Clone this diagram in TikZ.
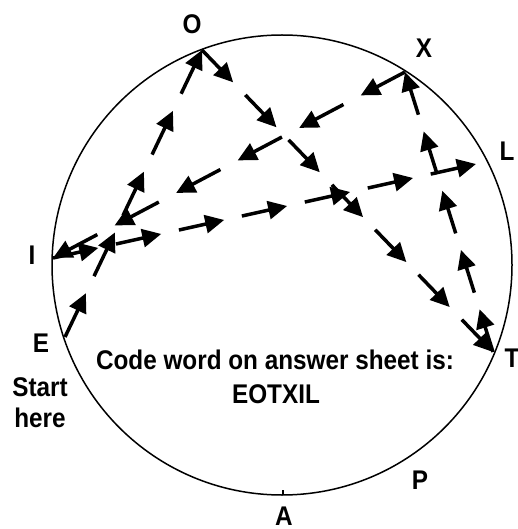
\documentclass[tikz,border=0pt]{standalone}
\usepackage{fontspec}
\setmainfont[FakeStretch=0.9]{Liberation Sans}
\usetikzlibrary{calc,arrows.meta}

\begin{document}
\begin{tikzpicture}[x=0.5pt, y=-0.5pt,
    lbl/.style={font=\bfseries\fontsize{13.5}{15.5}\selectfont, inner sep=0pt},
    hop/.style={line width=1.75pt, -{Triangle[length=9.5pt,width=9pt]}}]
    \useasboundingbox (0,0) rectangle (518,529);
    \coordinate (ctr) at (282,265);
    \draw[line width=0.75pt] (ctr) circle [radius=230];

    % points on the circle
    \coordinate (E) at (65,337);
    \coordinate (O) at (202,50);
    \coordinate (T) at (493,352);
    \coordinate (X) at (405,72);
    \coordinate (I) at (53,258);
    \coordinate (L) at (476,164);
    \coordinate (A) at (283,495);
    \draw[line width=1pt] (A) -- ++(0,-5);

    \node[lbl] (labO) at (192,24) {O};
    \node[lbl] (labX) at (424,48) {X};
    \node[lbl] (labL) at (507,151) {L};
    \node[lbl] (labT) at (512,358) {T};
    \node[lbl] (labE) at (41,343) {E};
    \node[lbl, align=center] (start) at (40,403) {Start\\here};
    \node[lbl] (labI) at (32,255) {I};
    \node[lbl] (labP) at (420,480) {P};
    \node[lbl] (labA) at (284,516) {A};

    \node[lbl, anchor=base] (code) at (275,369) {Code word on answer sheet is:};
    \node[lbl, anchor=base] (word) at (276,403) {EOTXIL};

    % dashed route E -> O -> T -> X -> I -> L
    \foreach \a/\b/\n in {E/O/5, O/T/7, T/X/5, X/I/6, I/L/7}
      \foreach \k in {1,...,\n}
        \draw[hop] ($(\a)!{(\k-1)/(\n-0.28)}!(\b)$) -- ($(\a)!{(\k-0.28)/(\n-0.28)}!(\b)$);
\end{tikzpicture}
\end{document}
